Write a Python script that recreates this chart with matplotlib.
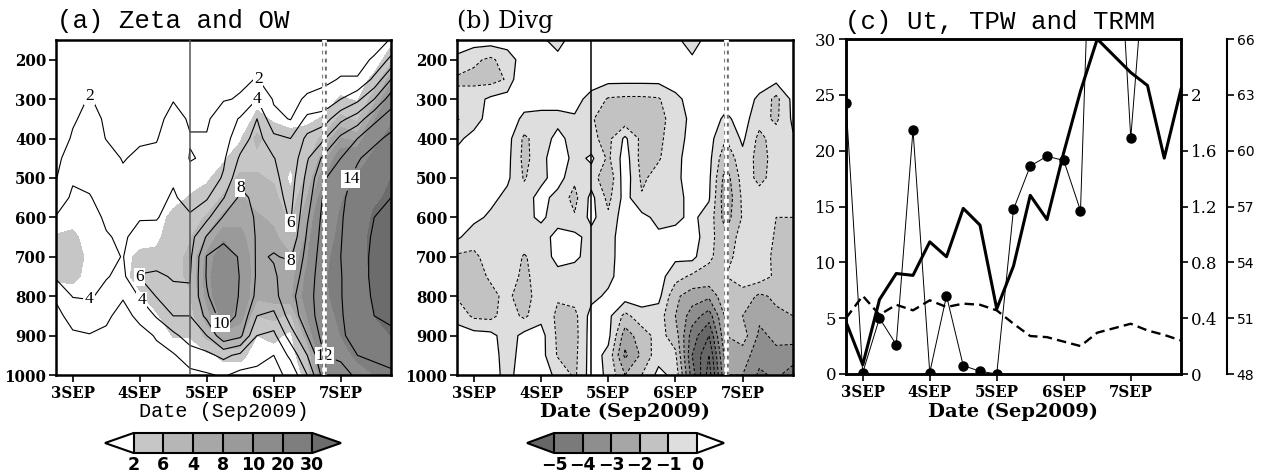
import datetime as dt
import numpy as np
import matplotlib
matplotlib.use("Agg")
import matplotlib.pyplot as plt
import matplotlib.dates as mdates
from matplotlib.colors import ListedColormap, BoundaryNorm
from matplotlib.font_manager import FontProperties

# ---------------- data ----------------
times = [dt.datetime(2009, 9, 2, 18) + dt.timedelta(hours=6 * k) for k in range(21)]
tick_days = [dt.datetime(2009, 9, d) for d in (3, 4, 5, 6, 7)]
tick_labels = ["3SEP", "4SEP", "5SEP", "6SEP", "7SEP"]
pressure = [150, 200, 250, 300, 350, 400, 450, 500, 550, 600,
            650, 700, 750, 800, 850, 900, 950, 1000]

# relative vorticity (contours), one list per time step, 150 -> 1000 hPa
zeta_cols = [
    [1, 1, 1, 1, 1, 1, 1.5, 1.9, 3, 4.1, 4.5, 4.6, 4.3, 2.2, 1.6, 1.5, 1.5, 1.5],
    [1, 1, 1, 1.5, 1.8, 2.2, 3, 3.8, 4.3, 4.6, 4.8, 4.8, 4.5, 4.1, 2.5, 1.8, 1.6, 1.5],
    [1, 1, 1.5, 2.1, 2.5, 2.8, 3.2, 3.6, 4.1, 4.5, 4.7, 4.7, 4.5, 4.2, 3, 1.9, 1.7, 1.6],
    [1, 1, 1, 1.5, 1.8, 1.95, 2.6, 3, 3.4, 3.8, 4.1, 4.3, 4.1, 3.5, 2.2, 1.8, 1.6, 1.5],
    [1, 1, 1, 1.2, 1.5, 1.7, 1.9, 2.3, 2.8, 3.3, 3.8, 3.95, 3.6, 2.1, 1.6, 1.5, 1.5, 1.4],
    [1, 1, 1, 1.2, 1.5, 1.8, 2.3, 2.8, 3.3, 3.9, 4.5, 5.3, 6.1, 4.2, 2.3, 1.6, 1.4, 1.3],
    [1, 1, 1, 1.2, 1.5, 1.9, 2.4, 3, 3.5, 3.9, 4.6, 5.5, 6.2, 6.1, 4.2, 2.1, 1.7, 1.5],
    [1, 1, 1.5, 1.9, 2.6, 3, 3.4, 3.8, 4.2, 4.6, 5, 5.5, 5.9, 6.3, 6, 3.5, 1.8, 1.5],
    [1, 1, 1.2, 1.5, 1.8, 2.1, 1.9, 2.5, 3.4, 4.2, 5.2, 5.6, 5.9, 6.2, 6, 5, 3, 1.5],
    [1, 1, 1.2, 1.5, 1.8, 2.1, 2.2, 2.9, 3.8, 5.5, 8.2, 10.1, 10.2, 9.8, 8.5, 6, 3.5, 1.8],
    [1, 1.2, 1.7, 1.9, 2.8, 3.3, 3.7, 4.2, 5.9, 8.2, 9.5, 11, 11.5, 11.5, 11, 9.5, 4.5, 2.2],
    [1, 1.3, 1.8, 2.1, 4.2, 5, 6.3, 7.6, 8.4, 9.2, 9.6, 9.8, 9.9, 9.8, 9.6, 8.5, 3.5, 1.5],
    [1.2, 1.6, 2.05, 4, 6, 6.8, 7.2, 7.5, 7.6, 7.7, 7.8, 7.8, 7.8, 7.6, 6, 4, 2.5, 1.6],
    [1, 1.2, 1.5, 1.8, 2.5, 4.5, 6.1, 6.5, 6.8, 7.2, 7.6, 8.1, 7.8, 7.4, 5.5, 3.5, 2, 1.4],
    [1, 1.2, 1.4, 1.6, 1.9, 4, 4.5, 5, 5.4, 5.8, 6.5, 7.8, 8.8, 9.5, 9, 7, 4.5, 2.5],
    [1, 1.2, 1.5, 2.2, 4.5, 6.5, 7.8, 8.6, 9.2, 9.8, 10.3, 10.7, 11, 11.2, 11, 10, 8, 6],
    [1, 1.3, 1.7, 2.5, 5, 7.8, 10.5, 11.8, 12.3, 12.6, 12.8, 13, 13.2, 13.3, 13.2, 12.8, 12, 11],
    [1, 1.5, 2.1, 4, 7.5, 10.5, 12, 13.2, 13.6, 13.8, 13.9, 14, 13.9, 13.9, 13.8, 13.6, 12.5, 11],
    [1, 1.5, 2.1, 5.5, 9, 12, 13.8, 14.5, 15, 15.2, 15.3, 15.4, 15.4, 15.3, 15.2, 15, 14, 12.5],
    [1.3, 2.2, 4.5, 8, 11.5, 13.5, 14.8, 15.5, 15.8, 16, 16.2, 16.3, 16.3, 16.2, 16, 15.6, 14.5, 13],
    [2.1, 4.5, 8, 11, 13, 14.5, 15.2, 15.8, 16, 16.2, 16.4, 16.5, 16.5, 16.4, 16.2, 15.8, 15, 13.5],
]

# Okubo-Weiss (shading), one list per time step, 150 -> 1000 hPa
ow_cols = [
    [0.5, 0.5, 0.5, 0.5, 0.5, 0.5, 0.5, 0.5, 0.8, 1.4, 2.1, 2.6, 2.3, 1.2, 0.8, 0.6, 0.5, 0.5],
    [0.5, 0.5, 0.5, 0.5, 0.5, 0.5, 0.5, 0.6, 0.9, 1.5, 2.3, 2.8, 2.4, 1.3, 0.8, 0.6, 0.5, 0.5],
    [0.5, 0.5, 0.5, 0.5, 0.5, 0.5, 0.5, 0.6, 0.8, 1.1, 1.4, 1.6, 1.5, 1.1, 0.8, 0.6, 0.5, 0.5],
    [0.5, 0.5, 0.5, 0.5, 0.5, 0.5, 0.5, 0.6, 0.7, 0.9, 1.1, 1.2, 1.2, 1.0, 0.8, 0.6, 0.5, 0.5],
    [0.5, 0.5, 0.5, 0.5, 0.5, 0.5, 0.5, 0.6, 0.7, 0.9, 1.2, 1.6, 1.6, 1.2, 0.8, 0.6, 0.5, 0.5],
    [0.5, 0.5, 0.5, 0.5, 0.5, 0.5, 0.6, 0.7, 0.9, 1.2, 1.5, 2.3, 2.5, 1.8, 1.2, 0.8, 0.6, 0.5],
    [0.5, 0.5, 0.5, 0.5, 0.5, 0.6, 0.7, 0.9, 1.2, 1.4, 1.6, 2.4, 3.0, 2.8, 1.8, 1.0, 0.6, 0.5],
    [0.5, 0.5, 0.5, 0.5, 0.5, 0.6, 0.8, 1.0, 1.5, 2.4, 3.0, 3.3, 3.5, 3.3, 3.0, 2.1, 1.0, 0.6],
    [0.5, 0.5, 0.5, 0.5, 0.6, 0.7, 1.0, 1.5, 2.1, 3.0, 3.8, 4.4, 4.3, 3.8, 3.0, 2.1, 1.2, 0.6],
    [0.5, 0.5, 0.5, 0.5, 0.6, 0.8, 1.2, 1.8, 2.5, 4.2, 6.2, 8.5, 9.0, 8.6, 7.0, 4.5, 1.5, 0.7],
    [0.5, 0.5, 0.5, 0.6, 0.8, 1.2, 1.8, 2.6, 4.3, 6.5, 9.5, 12, 13, 12.5, 11, 7, 2.5, 1.0],
    [0.5, 0.5, 0.5, 0.7, 1.0, 1.8, 2.8, 4.5, 6.2, 7.5, 8.5, 9.3, 9.5, 9.8, 9.0, 6.5, 2.5, 1.0],
    [0.5, 0.5, 0.6, 1.5, 2.4, 4.5, 3.5, 4.2, 5.0, 6.3, 6.8, 7.0, 7.0, 6.5, 4.0, 2.0, 1.2, 0.8],
    [0.5, 0.5, 0.6, 1.0, 1.8, 2.8, 3.3, 3.8, 4.5, 5.5, 6.5, 7.0, 7.3, 6.8, 4.5, 2.5, 1.2, 0.8],
    [0.5, 0.5, 0.5, 0.8, 1.5, 2.5, 2.6, 1.5, 2.6, 3.5, 4.5, 6.2, 7.2, 7.5, 3.5, 1.5, 1.0, 1.0],
    [0.5, 0.5, 0.5, 1.0, 1.6, 2.8, 3.5, 4.5, 6.0, 7.5, 8.5, 9.5, 10.5, 11, 10, 7, 4, 2.5],
    [0.5, 0.5, 0.7, 1.2, 2.2, 4.5, 7, 9.5, 12, 14, 16, 18, 19, 19, 18, 16, 13, 11],
    [0.5, 0.7, 1.0, 2.2, 4.5, 8, 12, 16, 19, 21, 22, 23, 23, 22, 21, 20, 18, 15],
    [0.6, 0.8, 1.0, 1.8, 3.5, 7, 14, 21, 24, 26, 27, 27, 26, 26, 25, 24, 21, 18],
    [0.8, 1.0, 2.5, 5, 9, 16, 23, 27, 29, 31, 32, 32, 32, 31, 30, 28, 24, 20],
    [1.5, 3, 7, 12, 18, 24, 28, 30, 31, 32, 33, 33, 33, 32, 31, 30, 27, 23],
]

# divergence, one list per pressure level (150 -> 1000 hPa), 21 time steps
divg_rows = [
    [0.5, 0.5, 0.5, 0.5, 0.5, 0.2, -0.4, 0.5, 0.5, 0.5, 0.5, 0.5, 0.5, 0.3, -0.6, 0.5, 0.5, 0.5, 0.5, 0.5, 0.5],
    [-0.2, -0.8, -1.2, -0.5, 0.5, 0.4, 0.3, 0.5, 0.5, 0.5, 0.5, 0.5, 0.5, 0.5, 0.2, 0.5, 0.5, 0.5, 0.5, 0.5, 0.5],
    [-1.2, -1.3, -1.4, -0.9, 1.5, 0.5, 0.5, 0.5, 0.4, 0.3, 0.3, 0.3, 0.3, 0.4, 0.5, 0.5, 0.5, 0.5, 0.5, 0.3, 0.5],
    [-0.6, -0.4, 0.2, 0.5, 0.4, 0.4, 0.4, 0.3, -0.3, -1.1, -1.2, -1.2, -1.1, -0.2, 0.3, 0.5, 0.4, 0.5, -0.2, -1.3, 0.3],
    [-1.1, -0.4, 0.4, 0.5, -0.2, -0.3, -0.3, -0.1, -0.9, -1.5, -1.7, -1.5, -1.3, -0.6, 0.3, 0.5, -0.2, 0.4, -0.6, -1.2, 0.2],
    [-0.2, 0.3, 0.5, 0.4, -1.2, -0.5, 0.3, -0.4, -0.8, -1.3, 0.2, -1.3, -1.2, -0.5, 0.4, 0.4, -1.0, 0.2, -1.3, -0.5, -0.1],
    [0.3, 0.5, 0.6, 0.3, -1.3, -0.4, 0.8, -0.4, 0.2, -1.2, 0.5, -1.4, -1.1, -0.3, 0.5, 0.3, -1.8, -0.3, -1.4, -0.6, -0.3],
    [0.8, 0.8, 0.5, 0.2, -1.1, -0.3, 0.5, -0.8, -0.5, -1.8, 0.6, -1.2, -0.6, -0.2, 0.4, 0.2, -2.5, -0.6, -1.2, -0.7, -0.5],
    [0.8, 0.6, 0.3, -0.3, -0.5, 0.4, -0.4, -1.3, 0.3, -1.3, 0.4, -0.9, -0.6, -0.3, 0.3, 0.1, -2.8, -0.8, -0.7, -0.9, -0.8],
    [0.4, 0.3, -0.2, -0.4, -0.3, 0.2, -0.5, -0.9, 0.3, -0.8, 0.6, 0.3, -0.3, -0.2, 0.2, -0.4, -2.5, -0.9, -0.6, -1.0, -1.0],
    [0.2, -0.6, -0.3, -0.4, -0.4, -0.5, 0.4, 0.3, -0.4, -0.5, 0.7, 0.5, 0.2, 0.3, 0.5, -0.6, -1.8, -0.5, -0.5, -1.1, -1.1],
    [-1.2, -1.2, -0.6, -0.3, -1.1, -0.5, 0.3, 0.2, -0.4, -0.4, 0.6, 0.5, 0.5, 0.2, 0.3, -0.9, -1.3, -0.6, -0.6, -1.2, -1.2],
    [-1.3, -1.3, -0.9, -0.4, -1.3, -0.4, -0.3, -0.5, -0.5, -0.3, 0.6, 0.6, 0.4, -0.6, -1.2, -1.2, -1.0, -0.5, -0.5, -1.2, -1.3],
    [-1.1, -1.4, -1.2, -0.8, -1.5, -0.4, -0.9, -0.6, -0.3, 0.2, 0.5, 0.5, 0.3, -1.8, -2.5, -2.8, -1.2, -1.4, -2.2, -1.8, -1.6],
    [-0.3, -1.2, -1.3, -0.5, -1.2, -0.3, -1.2, -1.3, 0.4, 0.3, -1.3, -0.4, -0.5, -2.0, -3.5, -4.5, -1.8, -2.0, -2.8, -2.2, -2.0],
    [0.4, 0.4, 0.3, -0.5, 0.3, 0.4, -1.2, -1.4, 0.5, 0.3, -2.5, -1.5, -0.6, -1.5, -4.5, -6.0, -2.0, -1.5, -3.2, -2.8, -2.6],
    [0.5, 0.5, 0.4, -0.4, 0.4, 0.4, -1.1, -1.3, 0.5, -0.3, -3.2, -1.8, -0.4, -0.8, -5.0, -7.0, -2.5, -2.5, -3.6, -3.2, -3.5],
    [0.5, 0.5, 0.4, -0.3, 0.5, 0.4, -0.2, -1.2, 0.5, -0.2, -2.0, -1.0, 0.3, -0.3, -4.5, -7.5, -3.0, -3.0, -4.2, -3.8, -4.5],
]

# panel (c) time series (6-hourly)
ut = [5.0, 7.0, 5.3, 6.2, 5.7, 6.6, 6.0, 6.3, 6.2, 5.7, 4.5, 3.4, 3.3, 2.9, 2.5,
      3.7, 4.1, 4.5, 3.9, 3.5, 3.0]                      # m/s, left axis
tpw = [50.8, 48.5, 52.0, 53.4, 53.3, 55.1, 54.3, 56.9, 56.0, 51.5, 53.8, 57.6,
       56.3, 59.9, 63.2, 66.0, 65.1, 64.2, 63.5, 59.6, 63.3]  # mm, outer right axis
trmm = [1.94, 0.01, 0.40, 0.21, 1.75, 0.01, 0.56, 0.06, 0.02, 0.0, 1.18, 1.49,
        1.56, 1.53, 1.17, 4.8, 3.8, 1.69, 3.2, np.nan, np.nan]  # mm/h, inner right axis

ow_levels = [2, 4, 6, 8, 10, 20, 30]
ow_ticklabels = ["2", "6", "4", "8", "10", "20", "30"]
zeta_levels = [2, 4, 6, 8, 10, 12, 14, 16]
div_levels = [-5, -4, -3, -2, -1, 0]
div_ticklabels = ["\u22125", "\u22124", "\u22123", "\u22122", "\u22121", "0"]

# ---------------- styling ----------------
W, H = 1266, 474
fig = plt.figure(figsize=(W / 100, H / 100), dpi=100)

def rect(x0, y0, x1, y1):
    return [x0 / W, 1 - y1 / H, (x1 - x0) / W, (y1 - y0) / H]

tick_font = dict(family="DejaVu Serif", weight="bold", size=12, stretch="condensed")
c_font = dict(family="DejaVu Serif", size=12)
cb_font = FontProperties(family="DejaVu Sans", weight="bold", size=12.5)
mono = "Liberation Mono"

t = mdates.date2num(times)
tt = mdates.date2num(tick_days)
P = np.array(pressure)
zeta = np.array(zeta_cols).T
ow = np.array(ow_cols).T
divg = np.array(divg_rows)
line_a = mdates.date2num(dt.datetime(2009, 9, 4, 18))
line_b = mdates.date2num(dt.datetime(2009, 9, 6, 18))

def style_axes(ax):
    ax.set_xlim(t[0], t[-1])
    ax.set_xticks(tt)
    ax.set_xticklabels(tick_labels, fontdict=tick_font)
    ax.tick_params(axis="both", direction="out", length=5, width=1.2, pad=2)
    for s in ax.spines.values():
        s.set_linewidth(1.8)

def vlines(ax, solid_color):
    ax.axvline(line_a, color=solid_color, lw=1.1, zorder=5)
    ax.axvline(line_b, color="white", lw=3.4, zorder=5)
    ax.axvline(line_b, color="#6a6a6a", lw=3.4, dashes=(0.8, 0.9), zorder=6)
    ax.axvline(line_b, color="white", lw=1.3, zorder=7)

# ---------------- panel (a) ----------------
ax1 = fig.add_axes(rect(56, 40, 391, 375))
cmap_a = ListedColormap(["#c6c6c6", "#b6b6b6", "#a7a7a7", "#9a9a9a", "#8c8c8c", "#7e7e7e"])
cmap_a.set_under("white")
cmap_a.set_over("#6c6c6c")
norm_a = BoundaryNorm(ow_levels, cmap_a.N)
cf1 = ax1.contourf(t, P, ow, levels=ow_levels, cmap=cmap_a, norm=norm_a, extend="both")
cs1 = ax1.contour(t, P, zeta, levels=zeta_levels, colors="k", linewidths=0.8)

def d(day, hour):
    return mdates.date2num(dt.datetime(2009, 9, day, hour))

man = [(d(3, 6), 290), (d(3, 6), 820), (d(4, 0), 752), (d(4, 0), 815),
       (d(5, 12), 525), (d(6, 6), 626), (d(6, 6), 723), (d(5, 6), 866),
       (d(6, 18), 954), (d(7, 6), 508), (d(5, 18), 251), (d(5, 18), 293)]
lbls = ax1.clabel(cs1, fmt="%d", manual=man, inline=True, inline_spacing=1,
                  fontsize=12.5, rightside_up=True)
for l in lbls:
    l.set_rotation(0)
    l.set_family("Liberation Serif")
    l.set_bbox(dict(facecolor="white", edgecolor="none", pad=0.6))
vlines(ax1, "#555555")
ax1.set_ylim(1000, 150)
ax1.set_yticks([200, 300, 400, 500, 600, 700, 800, 900, 1000])
ax1.set_yticklabels([str(v) for v in [200, 300, 400, 500, 600, 700, 800, 900, 1000]],
                    fontdict=tick_font)
style_axes(ax1)
fig.text(57 / W, 1 - 28 / H, "(a) Zeta and OW", family=mono, fontsize=18.5, va="baseline")
fig.text(224 / W, 1 - 417 / H, "Date (Sep2009)", family=mono, fontsize=14.5,
         ha="center", va="baseline")

cax1 = fig.add_axes(rect(105, 433, 341, 453))
cb1 = fig.colorbar(cf1, cax=cax1, orientation="horizontal", extendfrac=0.16,
                   drawedges=True, ticks=ow_levels)
cb1.set_ticklabels(ow_ticklabels)
cb1.ax.tick_params(length=0, pad=2)
for l in cb1.ax.get_xticklabels():
    l.set_fontproperties(cb_font)
cb1.outline.set_linewidth(1.5)
cb1.dividers.set_linewidth(1.5)

# ---------------- panel (b) ----------------
ax2 = fig.add_axes(rect(457, 40, 793, 375))
cmap_b = ListedColormap(["#7a7a7a", "#8e8e8e", "#a6a6a6", "#c2c2c2", "#dedede"])
cmap_b.set_under("#676767")
cmap_b.set_over("white")
norm_b = BoundaryNorm(div_levels, cmap_b.N)
cf2 = ax2.contourf(t, P, divg, levels=div_levels, cmap=cmap_b, norm=norm_b, extend="both")
ax2.contour(t, P, divg, levels=[-9, -8, -7, -6, -5, -4, -3, -2, -1], colors="k",
            linewidths=0.75, linestyles=[(0, (3.0, 2.0))])
ax2.contour(t, P, divg, levels=[0], colors="k", linewidths=0.9)
vlines(ax2, "k")
ax2.set_ylim(1000, 150)
ax2.set_yticks([200, 300, 400, 500, 600, 700, 800, 900, 1000])
ax2.set_yticklabels([str(v) for v in [200, 300, 400, 500, 600, 700, 800, 900, 1000]],
                    fontdict=tick_font)
style_axes(ax2)
fig.text(457 / W, 1 - 28 / H, "(b) Divg", family="DejaVu Serif", fontsize=17, va="baseline")
fig.text(625 / W, 1 - 417 / H, "Date (Sep2009)", family="DejaVu Serif", weight="bold",
         fontsize=14, ha="center", va="baseline")

cax2 = fig.add_axes(rect(527, 433, 724, 453))
cb2 = fig.colorbar(cf2, cax=cax2, orientation="horizontal", extendfrac=0.19,
                   drawedges=True, ticks=div_levels)
cb2.set_ticklabels(div_ticklabels)
cb2.ax.tick_params(length=0, pad=2)
for l in cb2.ax.get_xticklabels():
    l.set_fontproperties(cb_font)
cb2.outline.set_linewidth(1.5)
cb2.dividers.set_linewidth(1.5)

# ---------------- panel (c) ----------------
ax3 = fig.add_axes(rect(846, 39, 1181, 374))
ax3.plot(t, ut, color="k", lw=1.7, dashes=(4, 2.2))
ax3.set_ylim(0, 30)
ax3.set_yticks([0, 5, 10, 15, 20, 25, 30])
ax3.set_yticklabels(["0", "5", "10", "15", "20", "25", "30"], fontdict=c_font)
style_axes(ax3)

ax4 = ax3.twinx()
ax4.plot(t, trmm, color="k", lw=0.7, marker="o", ms=6.5, mfc="k", mec="k")
ax4.set_ylim(0, 2.4)
ax4.set_yticks([0, 0.4, 0.8, 1.2, 1.6, 2.0])
ax4.set_yticklabels(["0", "0.4", "0.8", "1.2", "1.6", "2"], fontdict=c_font)
ax4.tick_params(axis="y", direction="out", length=5, width=1.2, pad=2)
for s in ax4.spines.values():
    s.set_linewidth(1.8)

ax5 = ax3.twinx()
ax5.plot(t, tpw, color="k", lw=2.2)
ax5.set_ylim(48, 66)
ax5.set_yticks([48, 51, 54, 57, 60, 63, 66])
ax5.set_yticklabels(["48", "51", "54", "57", "60", "63", "66"], fontdict=c_font)
ax5.spines["right"].set_position(("axes", (1227 - 846) / 335))
for k in ("top", "left", "bottom"):
    ax5.spines[k].set_visible(False)
ax5.spines["right"].set_linewidth(1.5)
ax5.tick_params(axis="y", direction="out", length=5, width=1.2, pad=2)
ax5.set_xlim(t[0], t[-1])

fig.text(845 / W, 1 - 29 / H, "(c) Ut, TPW and TRMM", family=mono, fontsize=18.5,
         va="baseline")
fig.text(1013 / W, 1 - 417 / H, "Date (Sep2009)", family="DejaVu Serif", weight="bold",
         fontsize=14, ha="center", va="baseline")

fig.savefig("out.png", dpi=100)
